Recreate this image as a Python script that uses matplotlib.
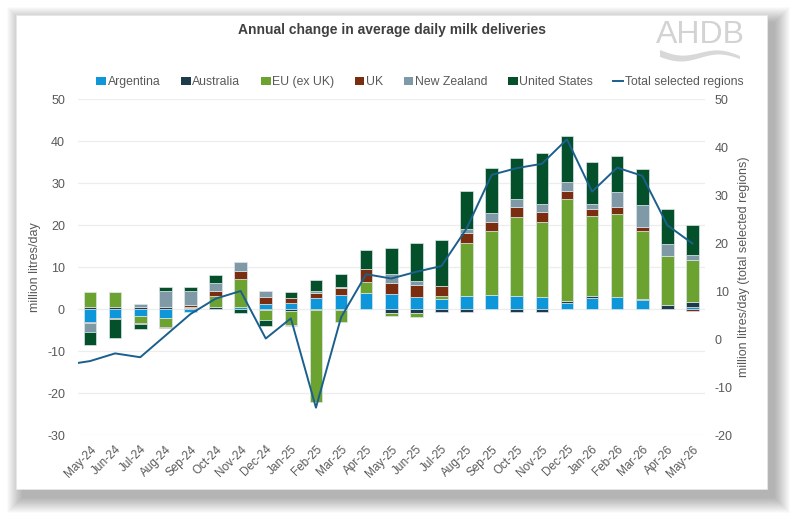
import matplotlib
matplotlib.use("Agg")
import matplotlib.pyplot as plt
from matplotlib.patches import Rectangle, Polygon, Patch
from matplotlib.lines import Line2D
import numpy as np

plt.rcParams['font.family'] = ['Liberation Sans', 'DejaVu Sans']
plt.rcParams['axes.unicode_minus'] = False

# data (million litres/day)
months = ['May-24', 'Jun-24', 'Jul-24', 'Aug-24', 'Sep-24', 'Oct-24', 'Nov-24', 'Dec-24',
          'Jan-25', 'Feb-25', 'Mar-25', 'Apr-25', 'May-25', 'Jun-25', 'Jul-25', 'Aug-25',
          'Sep-25', 'Oct-25', 'Nov-25', 'Dec-25', 'Jan-26', 'Feb-26', 'Mar-26', 'Apr-26', 'May-26']
argentina = [-3.0, -2.2, -1.6, -2.2, -0.6, 0.0, 0.5, 1.3, 1.4, 2.6, 3.4, 3.7, 3.6, 2.9, 2.4, 3.2,
             3.3, 3.0, 2.8, 1.5, 2.7, 2.8, 2.1, 0.1, 0.4]
australia = [0.4, 0.4, 0.4, 0.5, 0.3, 0.5, 0.0, -0.3, -0.5, -0.2, -0.2, 0.0, -0.9, -1.0, -0.8, -0.6,
             0.0, -0.8, -0.6, 0.5, 0.4, 0.0, 0.4, 0.8, 1.2]
eu = [3.6, 3.6, -1.8, -2.2, 0.2, 2.6, 6.6, -2.4, -3.2, -22.0, -3.0, 2.8, -0.8, -0.8, 0.8, 12.6,
      15.2, 18.8, 17.9, 24.1, 19.0, 19.8, 16.1, 11.7, 10.1]
uk = [-0.3, -0.2, -0.2, -0.2, 0.4, 1.3, 2.0, 1.6, 1.3, 1.2, 1.6, 3.0, 2.5, 2.8, 2.3, 2.2,
      2.2, 2.6, 2.3, 2.1, 1.6, 1.6, 1.0, 0.0, -0.4]
nz = [-2.1, 0.0, 0.7, 3.7, 3.4, 1.8, 2.0, 1.4, -0.4, 0.6, 0.3, 0.0, 2.2, 1.0, 0.0, 1.0,
      2.1, 1.8, 2.1, 2.0, 1.4, 3.7, 5.2, 2.8, 1.2]
us = [-3.2, -4.5, -1.1, 1.0, 1.0, 1.9, -0.9, -1.4, 1.3, 2.6, 3.0, 4.5, 6.3, 9.0, 10.9, 9.0,
      10.7, 9.8, 12.1, 11.1, 9.9, 8.5, 8.5, 8.3, 7.0]
total_apr24 = -5.4  # point before the first month, only its segment shows
total = [-4.6, -3.0, -3.8, 0.7, 5.2, 8.4, 10.0, 0.1, 4.3, -14.3, 4.5, 13.5, 12.6, 14.0, 15.2,
         23.0, 34.2, 35.6, 36.5, 41.6, 30.7, 35.7, 34.0, 23.7, 19.9]

series = [('Argentina', argentina, '#0E96DA'),
          ('Australia', australia, '#1D3B4C'),
          ('EU (ex UK)', eu, '#6CA330'),
          ('UK', uk, '#7B2D0F'),
          ('New Zealand', nz, '#8099A7'),
          ('United States', us, '#03502A')]
line_color = '#1B5F8C'
grey = '#595959'

W, H = 800, 523
fig = plt.figure(figsize=(W / 100, H / 100), dpi=100)


def fx(px):
    return px / W


def fy(py):
    return 1 - py / H


# drop shadow + white card
x0, y0, x1, y1 = 16, 15, 767, 489
for k in range(16, 0, -1):
    fig.patches.append(Rectangle((fx(x0 + 7 - k), fy(y1 + 8 + k)),
                                 fx(x1 - x0 + 2 * k), (y1 - y0 + 2 * k) / H,
                                 transform=fig.transFigure, facecolor='black',
                                 edgecolor='none', alpha=0.02, zorder=0))
fig.patches.append(Rectangle((fx(x0), fy(y1)), fx(x1 - x0), (y1 - y0) / H,
                             transform=fig.transFigure, facecolor='white',
                             edgecolor='#E6E6E6', lw=0.6, zorder=1))

ax = fig.add_axes([fx(77.5), fy(435), fx(705 - 77.5), (435 - 99) / H])
ax.set_zorder(2)
ax.patch.set_visible(False)
x = np.arange(len(months))

pos_base = np.zeros(len(months))
neg_base = np.zeros(len(months))
for name, vals, col in series:
    v = np.array(vals)
    base = np.where(v >= 0, pos_base, neg_base)
    ax.bar(x, v, 0.5, bottom=base, color=col, edgecolor='#DCE6EA', linewidth=0.5, zorder=3)
    pos_base += np.where(v >= 0, v, 0)
    neg_base += np.where(v < 0, v, 0)

ax.set_xlim(-0.5, len(months) - 0.5)
ax.set_ylim(-30, 50)
ax.set_yticks(range(-30, 51, 10))
ax.grid(axis='y', color='#EDEDED', linewidth=0.9, zorder=0)
for s in ax.spines.values():
    s.set_visible(False)
ax.tick_params(axis='both', length=0, colors=grey, labelsize=9)
ax.tick_params(axis='y', pad=9)
ax.set_xticks(x)
ax.set_xticklabels(months, rotation=45, ha='right', rotation_mode='anchor', fontsize=8.5)
ax.tick_params(axis='x', pad=6)
ax.set_ylabel('million litres/day', color=grey, fontsize=9, labelpad=4)

ax2 = ax.twinx()
ax2.set_zorder(3)
ax2.patch.set_visible(False)
ax2.plot(np.arange(-1, len(months)), [total_apr24] + total, color=line_color, lw=1.4,
         zorder=4, clip_on=True)
ax2.set_ylim(-20, 50)
ax2.set_yticks(range(-20, 51, 10))
for s in ax2.spines.values():
    s.set_visible(False)
ax2.tick_params(axis='y', length=0, colors=grey, labelsize=9, pad=7)
ax2.set_ylabel('million litres/day (total selected regions)', color=grey, fontsize=9,
               labelpad=4)

fig.text(fx(392), fy(30), 'Annual change in average daily milk deliveries', ha='center',
         va='center', fontsize=10, fontweight='bold', color='#404040', zorder=5)

handles = [Patch(facecolor=c, edgecolor='none') for _, _, c in series]
handles.append(Line2D([], [], color=line_color, lw=1.4))
labels = [n for n, _, _ in series] + ['Total selected regions']
leg = fig.legend(handles, labels, loc='center', bbox_to_anchor=(fx(420), fy(82)), ncol=7,
                 frameon=False, fontsize=8.8, handlelength=0.8, handleheight=0.6,
                 handletextpad=0.15, columnspacing=1.65, borderaxespad=0)
for t in leg.get_texts():
    t.set_color(grey)
leg.set_zorder(5)

# AHDB logo
fig.text(fx(700), fy(35), 'AHDB', ha='center', va='center', fontsize=23, color='#D3D3D3',
         zorder=5)
t = np.linspace(0, 1, 60)
xs = 660 + 80 * t
top = 50 + 4 * np.sin(2 * np.pi * t) + 6 * t
bot = top + 7 - 4 * t
pts = [(fx(a), fy(b)) for a, b in zip(xs, top)] + [(fx(a), fy(b)) for a, b in zip(xs[::-1], bot[::-1])]
fig.patches.append(Polygon(pts, closed=True, transform=fig.transFigure, facecolor='#D8D8D8',
                           edgecolor='none', zorder=5))

fig.savefig('out.png', dpi=100)
